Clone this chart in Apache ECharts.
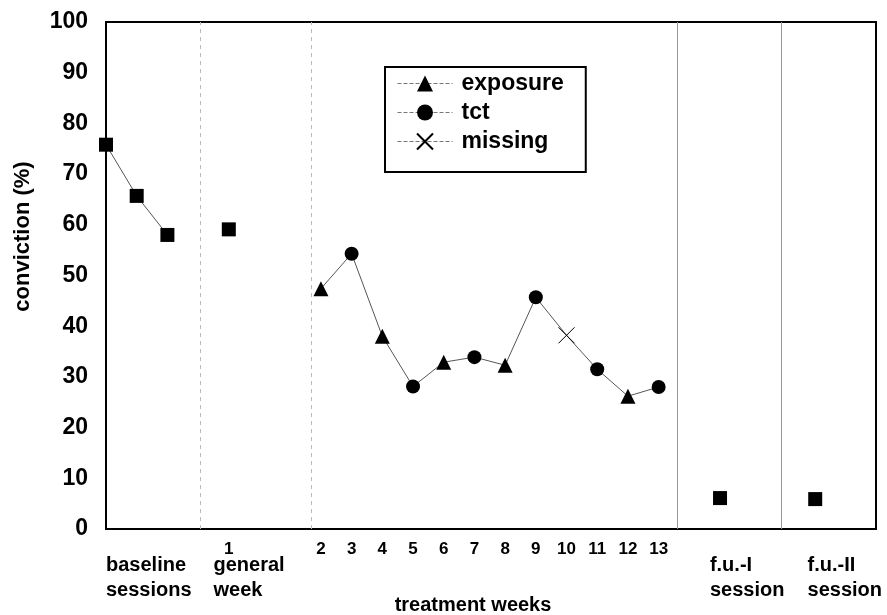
<!DOCTYPE html>
<html>
<head>
<meta charset="utf-8">
<script src="https://cdn.jsdelivr.net/npm/echarts@6/dist/echarts.min.js"></script>
<style>
html, body {margin: 0; padding: 0; background: #fff;}
#main {width: 887px; height: 615px;}
</style>
</head>
<body>
<div id="main"></div>
<script>
// 数据
var baselineVals = [75.8, 65.7, 58.0];
var generalVal = 59.1;
var weeks = [2, 3, 4, 5, 6, 7, 8, 9, 10, 11, 12, 13];
var weekVals = [47.4, 54.3, 38.0, 28.1, 32.9, 33.9, 32.3, 45.7, 38.2, 31.5, 26.2, 28.0];
var weekTypes = ['exposure', 'tct', 'exposure', 'tct', 'exposure', 'tct', 'exposure', 'tct', 'missing', 'tct', 'exposure', 'tct'];
var followVals = [6.1, 5.9];
var yTicks = [0, 10, 20, 30, 40, 50, 60, 70, 80, 90, 100];

// x 轴上的位置（每周一个单位）
var baselinePos = [0, 1, 2];
var generalPos = 4;
var weekOffset = 5;
var followPos = [20, 23.1];
var dividers = [3.06, 6.68, 18.6, 22.0];
var groupLabels = [
    {pos: 0, text: 'baseline\nsessions'},
    {pos: 3.5, text: 'general\nweek'},
    {pos: 19.67, text: 'f.u.-I\nsession'},
    {pos: 22.85, text: 'f.u.-II\nsession'}
];

var myChart = echarts.init(document.getElementById('main'));
var font = 'Liberation Sans, Arial, sans-serif';

function typeData(t) {
    var arr = [];
    for (var i = 0; i < weeks.length; i++) {
        if (weekTypes[i] == t) arr.push([weeks[i] + weekOffset, weekVals[i]]);
    }
    return arr;
}

var lineData = [];
for (var i = 0; i < weeks.length; i++) lineData.push([weeks[i] + weekOffset, weekVals[i]]);
var baseData = [];
for (var i = 0; i < baselineVals.length; i++) baseData.push([baselinePos[i], baselineVals[i]]);
var otherSquares = [[generalPos, generalVal], [followPos[0], followVals[0]], [followPos[1], followVals[1]]];

var crossPath = 'path://M0,0L10,10M10,0L0,10';
var legendLine = {color: '#777', width: 1, type: 'dashed', opacity: 1};

option = {
    animation: false,
    textStyle: {fontFamily: font},
    grid: {left: 106, right: 11, top: 22, bottom: 86, outerBoundsMode: 'none',
        show: true, borderColor: '#000', borderWidth: 2},
    legend: {
        orient: 'vertical', left: 385, top: 67,
        backgroundColor: '#fff', borderColor: '#000', borderWidth: 2,
        padding: [5, 22, 19, 12], itemGap: 6, itemWidth: 55, itemHeight: 20,
        textStyle: {fontSize: 23, fontWeight: 'bold', color: '#000', fontFamily: font, padding: [0, 0, 0, 4]},
        data: [
            {name: 'exposure', lineStyle: legendLine},
            {name: 'tct', lineStyle: legendLine},
            {name: 'missing', lineStyle: legendLine}
        ]
    },
    xAxis: [{
        type: 'value', min: 0, max: 25.08, interval: 1,
        splitLine: {show: false},
        axisTick: {show: false},
        axisLine: {lineStyle: {color: '#000', width: 2}},
        axisLabel: {
            margin: 12, fontSize: 17, fontWeight: 'bold', color: '#000', fontFamily: font,
            formatter: function(v) {
                if (v == generalPos) return '1';
                var w = v - weekOffset;
                if (w >= 2 && w <= 13) return String(w);
                return '';
            }
        }
    }, {
        type: 'value', min: 0, max: 25.08, position: 'bottom',
        splitLine: {show: false},
        axisTick: {show: false},
        axisLine: {show: false},
        name: 'treatment weeks', nameLocation: 'middle', nameGap: 66, nameMoveOverlap: false,
        nameTextStyle: {fontSize: 20, fontWeight: 'bold', color: '#000', fontFamily: font, padding: [0, 36, 0, 0]},
        axisLabel: {
            customValues: groupLabels.map(function(g) { return g.pos; }),
            showMinLabel: true, showMaxLabel: true, hideOverlap: false,
            margin: 24, fontSize: 20, fontWeight: 'bold', color: '#000', fontFamily: font,
            align: 'left', verticalAlign: 'top', lineHeight: 25,
            formatter: function(v) {
                for (var j = 0; j < groupLabels.length; j++) {
                    if (Math.abs(groupLabels[j].pos - v) < 0.001) return groupLabels[j].text;
                }
                return '';
            }
        }
    }],
    yAxis: {
        type: 'value', min: 0, max: 100, interval: 10,
        splitLine: {show: false},
        axisTick: {show: false},
        axisLine: {lineStyle: {color: '#000', width: 2}},
        axisLabel: {
            margin: 18, fontSize: 23, fontWeight: 'bold', color: '#000', fontFamily: font, padding: [0, 0, 6, 0],
            formatter: function(v) { return yTicks.indexOf(v) >= 0 ? String(v) : ''; }
        },
        name: 'conviction (%)', nameLocation: 'middle', nameGap: 72, nameMoveOverlap: false,
        nameTextStyle: {fontSize: 22, fontWeight: 'bold', color: '#000', fontFamily: font, padding: [0, 0, 0, 78]}
    },
    series: [{
        name: 'dividers', type: 'line', data: [], silent: true,
        markLine: {
            symbol: 'none', silent: true, label: {show: false},
            data: [
                {xAxis: dividers[0], lineStyle: {color: '#bbb', width: 1, type: [4, 4]}},
                {xAxis: dividers[1], lineStyle: {color: '#bbb', width: 1, type: [4, 4]}},
                {xAxis: dividers[2], lineStyle: {color: '#999', width: 1, type: 'solid'}},
                {xAxis: dividers[3], lineStyle: {color: '#999', width: 1, type: 'solid'}}
            ]
        }
    }, {
        name: 'treatment', type: 'line', data: lineData, showSymbol: false, silent: true,
        lineStyle: {color: '#555', width: 1}
    }, {
        name: 'baseline', type: 'line', data: baseData, symbol: 'rect', symbolSize: 14,
        itemStyle: {color: '#000'}, lineStyle: {color: '#555', width: 1}
    }, {
        name: 'sessions', type: 'scatter', data: otherSquares, symbol: 'rect', symbolSize: 14,
        itemStyle: {color: '#000', opacity: 1}
    }, {
        name: 'exposure', type: 'line', data: typeData('exposure'), symbol: 'triangle', symbolSize: 15,
        itemStyle: {color: '#000'}, lineStyle: {width: 0}
    }, {
        name: 'tct', type: 'line', data: typeData('tct'), symbol: 'circle', symbolSize: 14,
        itemStyle: {color: '#000'}, lineStyle: {width: 0}
    }, {
        name: 'missing', type: 'line', data: typeData('missing'), symbol: crossPath, symbolSize: 16,
        itemStyle: {color: 'none', borderColor: '#000', borderWidth: 1}, lineStyle: {width: 0}
    }]
};
myChart.setOption(option);
</script>
</body>
</html>
